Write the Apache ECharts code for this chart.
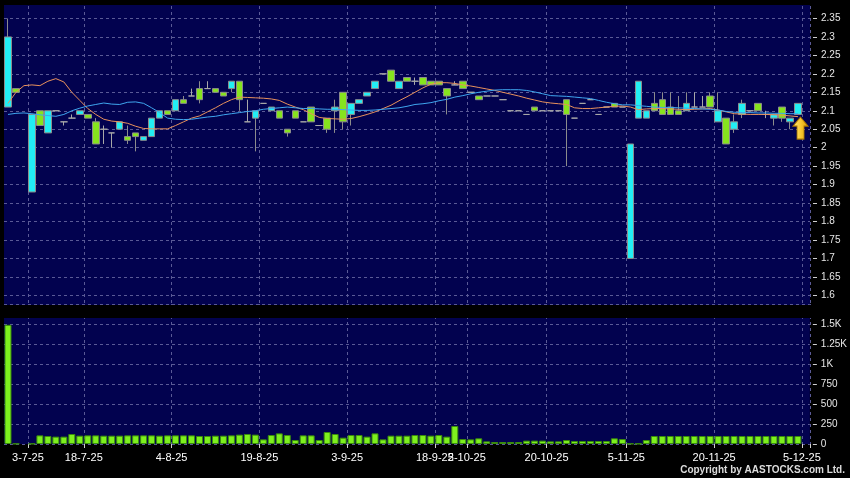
<!DOCTYPE html>
<html><head><meta charset="utf-8">
<script src="https://cdn.jsdelivr.net/npm/echarts@6/dist/echarts.min.js"></script>
<style>html,body{margin:0;padding:0;background:#000;}#c{width:850px;height:478px;}</style>
</head><body><div id="c"></div>
<script>
// ---- data (one entry per trading slot; the last slot is left empty) ----
const opens = [2.11,2.16,null,1.88,2.10,2.04,2.10,2.07,2.08,2.09, 2.09,2.07,2.05,2.04,2.05,2.03,2.04,2.02,2.03,2.08, 2.10,2.10,2.13,2.14,2.16,2.16,2.16,2.15,2.16,2.18, 2.07,2.08,2.12,2.10,2.10,2.05,2.10,2.07,2.11,2.06, 2.08,2.10,2.15,2.09,2.12,2.14,2.16,2.20,2.21,2.16, 2.19,2.18,2.19,2.18,2.18,2.16,2.17,2.18,2.15,2.14, 2.14,2.14,2.13,2.10,2.10,2.09,2.11,2.10,2.10,2.10, 2.13,2.08,2.12,2.13,2.09,2.11,2.12,2.11,1.70,2.08, 2.08,2.12,2.13,2.11,2.10,2.10,2.11,2.11,2.14,2.07, 2.08,2.05,2.09,2.10,2.12,2.09,2.08,2.11,2.07,2.09, null];
const closes = [2.30,2.15,null,2.09,2.06,2.10,2.10,2.07,2.08,2.10, 2.08,2.01,2.05,2.04,2.07,2.02,2.03,2.03,2.08,2.10, 2.09,2.13,2.12,2.14,2.13,2.16,2.15,2.14,2.18,2.13, 2.07,2.10,2.12,2.11,2.08,2.04,2.08,2.07,2.07,2.06, 2.05,2.11,2.07,2.12,2.13,2.15,2.18,2.20,2.18,2.18, 2.18,2.18,2.17,2.17,2.17,2.14,2.17,2.16,2.15,2.13, 2.14,2.14,2.13,2.10,2.10,2.09,2.10,2.10,2.10,2.10, 2.09,2.08,2.12,2.13,2.09,2.11,2.11,2.11,2.01,2.18, 2.10,2.10,2.09,2.09,2.09,2.12,2.11,2.11,2.11,2.10, 2.01,2.07,2.12,2.10,2.10,2.09,2.09,2.08,2.08,2.12, null];
const lows = [2.11,2.15,null,1.88,2.06,2.04,2.10,2.06,2.08,2.09, 2.08,2.01,2.01,2.00,2.05,2.01,1.99,2.02,2.03,2.08, 2.09,2.10,2.12,2.14,2.12,2.16,2.15,2.14,2.15,2.10, 2.07,1.99,2.12,2.10,2.08,2.03,2.08,2.07,2.07,2.06, 2.04,2.04,2.05,2.06,2.12,2.14,2.16,2.20,2.18,2.16, 2.18,2.17,2.17,2.17,2.17,2.09,2.17,2.16,2.15,2.13, 2.14,2.14,2.13,2.10,2.10,2.09,2.10,2.10,2.10,2.10, 1.95,2.08,2.12,2.13,2.09,2.11,2.11,2.11,1.70,2.08, 2.08,2.10,2.09,2.09,2.09,2.10,2.11,2.11,2.11,2.07, 2.01,2.04,2.08,2.10,2.10,2.08,2.06,2.07,2.05,2.09, null];
const highs = [2.35,2.16,null,2.09,2.10,2.10,2.10,2.07,2.09,2.10, 2.09,2.08,2.06,2.04,2.07,2.06,2.04,2.03,2.08,2.10, 2.10,2.13,2.14,2.16,2.18,2.18,2.16,2.15,2.18,2.18, 2.13,2.10,2.12,2.11,2.10,2.05,2.10,2.07,2.11,2.06, 2.08,2.13,2.15,2.12,2.13,2.15,2.18,2.20,2.21,2.18, 2.19,2.19,2.19,2.18,2.18,2.16,2.18,2.18,2.15,2.14, 2.14,2.14,2.13,2.10,2.10,2.09,2.11,2.10,2.10,2.10, 2.13,2.08,2.12,2.13,2.09,2.11,2.12,2.11,2.01,2.18, 2.10,2.15,2.15,2.15,2.14,2.15,2.15,2.14,2.15,2.15, 2.08,2.09,2.13,2.10,2.12,2.10,2.09,2.11,2.08,2.12, null];
const volumes = [1490,4,null,4,108,100,92,92,125,104, 108,108,104,104,104,108,108,108,108,104, 108,108,108,108,100,100,104,104,108,117, 125,117,58,112,133,112,50,108,108,50, 150,125,79,112,112,92,133,58,104,104, 104,112,112,104,112,92,225,62,58,71, 33,25,25,25,25,42,42,42,33,33, 50,37,37,37,37,37,71,62,4,4, 50,100,100,100,100,100,100,100,100,100, 100,100,100,100,100,100,100,100,100,100, null];
const maShort = [2.12,2.15,2.168,2.17,2.168,2.18,2.187,2.178,2.15,2.128, 2.106,2.09,2.077,2.072,2.07,2.066,2.058,2.052,2.051,2.051, 2.051,2.06,2.07,2.08,2.086,2.097,2.108,2.12,2.13,2.137, 2.136,2.135,2.134,2.132,2.128,2.118,2.11,2.103,2.092,2.082, 2.079,2.078,2.077,2.079,2.084,2.09,2.097,2.106,2.115,2.127, 2.138,2.15,2.162,2.172,2.176,2.176,2.174,2.17,2.167,2.163, 2.159,2.155,2.15,2.145,2.14,2.134,2.129,2.124,2.121,2.119, 2.117,2.108,2.106,2.106,2.108,2.11,2.112,2.113,2.11,2.103, 2.105,2.106,2.106,2.105,2.104,2.103,2.104,2.105,2.106,2.102, 2.097,2.092,2.091,2.09,2.09,2.09,2.089,2.088,2.086,2.084, null];
const maLong = [2.09,2.093,2.094,2.092,2.089,2.087,2.085,2.09,2.1,2.107, 2.113,2.117,2.121,2.118,2.117,2.123,2.124,2.12,2.108,2.095, 2.08,2.077,2.076,2.077,2.08,2.083,2.085,2.089,2.092,2.095, 2.098,2.1,2.104,2.106,2.108,2.11,2.108,2.106,2.106,2.105, 2.104,2.104,2.103,2.102,2.101,2.101,2.102,2.104,2.106,2.108, 2.112,2.117,2.119,2.122,2.127,2.131,2.137,2.141,2.146,2.15, 2.153,2.156,2.157,2.157,2.157,2.155,2.151,2.146,2.141,2.14, 2.139,2.137,2.135,2.133,2.128,2.123,2.119,2.116,2.116,2.114, 2.112,2.11,2.109,2.109,2.108,2.107,2.106,2.105,2.104,2.102, 2.098,2.096,2.095,2.095,2.094,2.094,2.093,2.093,2.092,2.092, null];
const labelSlots = [2, 9, 20, 31, 42, 53, 57, 67, 77, 88, 99];
const labelTexts = ['3-7-25','18-7-25','4-8-25','19-8-25','3-9-25','18-9-25','2-10-25','20-10-25','5-11-25','20-11-25','5-12-25'];
const arrowSlot = 99, arrowPrice = 2.053;
const copyright = 'Copyright by AASTOCKS.com Ltd.';

// ---- build ----
const categories = opens.map((_, i) => String(i));
const candles = opens.map((o, i) => o == null ? '-' : [o, closes[i], lows[i], highs[i]]);
const vols = volumes.map(v => v == null ? '-' : v);
const labelAt = {}; labelSlots.forEach((s, j) => { labelAt[s] = labelTexts[j]; });
const boundaryAt = {}; labelSlots.forEach(s => { boundaryAt[s + 1] = true; });

const NAVY = '#02024f';
const GRIDC = '#5a5a96';
const FONT = "'Liberation Sans', Arial, sans-serif";
const dashed = { show: true, lineStyle: { color: GRIDC, type: [3, 3], width: 1 } };

const chart = echarts.init(document.getElementById('c'), null, { renderer: 'canvas' });
chart.setOption({
  animation: false,
  backgroundColor: '#000',
  textStyle: { fontFamily: FONT },
  title: { text: copyright, right: 5, top: 465, padding: 0,
    textStyle: { fontSize: 10, fontWeight: 'bold', color: '#dcdcdc', fontFamily: FONT } },
  grid: [
    { left: 4, right: 40, top: -0.2, height: 314, show: true, backgroundColor: NAVY, borderWidth: 0 },
    { left: 4, right: 40, top: 304, height: 140, show: true, backgroundColor: NAVY, borderWidth: 0 }
  ],
  xAxis: [
    { type: 'category', gridIndex: 0, data: categories, boundaryGap: true,
      axisLine: { show: false }, axisTick: { show: false }, axisLabel: { show: false },
      splitLine: Object.assign({ interval: (i) => !!boundaryAt[i] }, dashed) },
    { type: 'category', gridIndex: 1, data: categories, boundaryGap: true,
      axisLine: { show: false },
      axisTick: { show: true, length: 4, interval: (i) => !!boundaryAt[i], lineStyle: { color: '#cfcfcf' } },
      axisLabel: { show: true, interval: (i) => labelAt[i] !== undefined, formatter: (v, i) => labelAt[i] || '',
        color: '#ffffff', fontSize: 11, margin: 8, padding: [0, 0, 0, 8], hideOverlap: false, fontFamily: FONT },
      splitLine: Object.assign({ interval: (i) => !!boundaryAt[i] }, dashed) }
  ],
  yAxis: [
    { type: 'value', gridIndex: 0, position: 'right', offset: 3, min: 1.55, max: 2.4, interval: 0.05,
      axisLine: { show: false }, axisTick: { show: true, length: 4, lineStyle: { color: '#cfcfcf' } },
      axisLabel: { color: '#e6e6e6', fontSize: 10, margin: 8, showMinLabel: false, showMaxLabel: false,
        formatter: (v) => String(+v.toFixed(2)), fontFamily: FONT },
      splitLine: dashed },
    { type: 'value', gridIndex: 1, position: 'right', offset: 3, min: 0, max: 1750, interval: 250,
      axisLine: { show: false }, axisTick: { show: true, length: 4, lineStyle: { color: '#cfcfcf' } },
      axisLabel: { color: '#e6e6e6', fontSize: 10, margin: 8, showMaxLabel: false,
        formatter: (v) => v >= 1000 ? (v / 1000) + 'K' : String(v), fontFamily: FONT },
      splitLine: dashed }
  ],
  series: [
    { type: 'candlestick', xAxisIndex: 0, yAxisIndex: 0, data: candles, barWidth: 7,
      itemStyle: { color: '#22eef4', color0: '#86e41e', borderColor: '#8c8c8c', borderColor0: '#8c8c8c',
        borderColorDoji: '#a8a8a8', borderWidth: 1 },
      markPoint: { silent: true, symbol: 'path://M7.5,0 L15,9 L11,9 L11,22 L4,22 L4,9 L0,9 Z',
        symbolSize: [15, 22], symbolOffset: [2.5, 0], label: { show: false },
        itemStyle: { color: new echarts.graphic.LinearGradient(0, 0, 1, 0, [
          { offset: 0, color: '#ffe680' }, { offset: 0.5, color: '#f8c832' }, { offset: 1, color: '#d89a00' }]),
          borderColor: '#a87400', borderWidth: 1 },
        data: [{ coord: [arrowSlot, arrowPrice] }] } },
    { type: 'line', xAxisIndex: 0, yAxisIndex: 0, data: maShort, symbol: 'none', smooth: false,
      lineStyle: { color: '#e8915c', width: 1 }, z: 3 },
    { type: 'line', xAxisIndex: 0, yAxisIndex: 0, data: maLong, symbol: 'none', smooth: false,
      lineStyle: { color: '#3fa6ef', width: 1 }, z: 3 },
    { type: 'bar', xAxisIndex: 1, yAxisIndex: 1, data: vols, barWidth: 7,
      itemStyle: { color: '#7ef01e', borderColor: '#3a8c0c', borderWidth: 1 } }
  ],
  graphic: { elements: [
    { type: 'rect', z: 100, silent: true, shape: { x: 0, y: 0, width: 850, height: 5 }, style: { fill: '#000' } },
    { type: 'rect', z: 100, silent: true, shape: { x: 0, y: 305, width: 850, height: 13 }, style: { fill: '#000' } }
  ] }
});
</script></body></html>
